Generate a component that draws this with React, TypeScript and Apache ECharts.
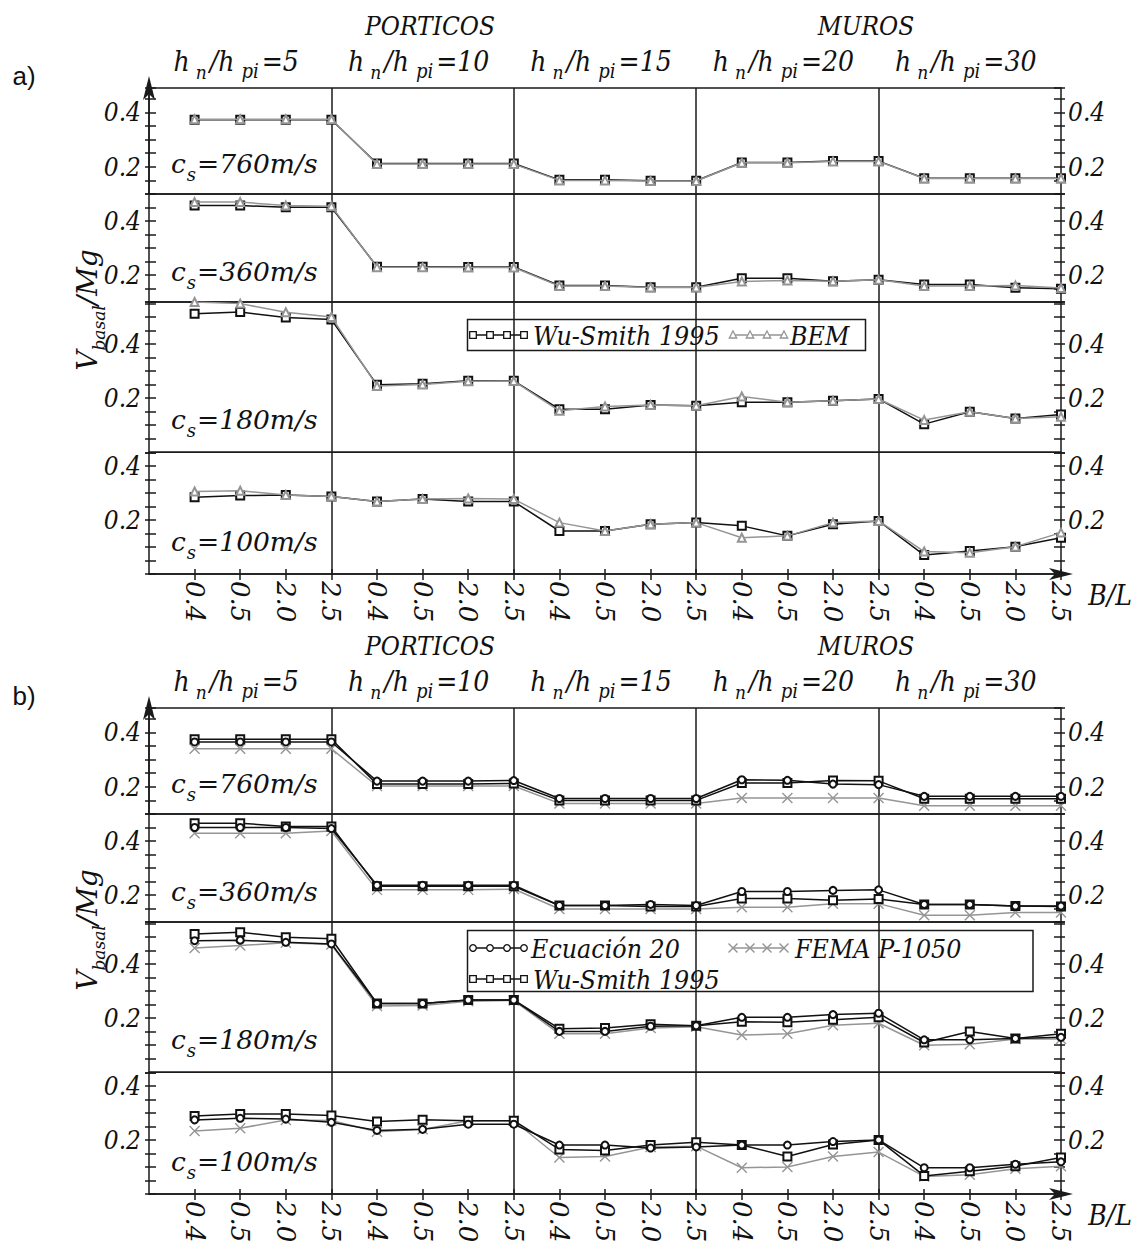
import { useEffect, useRef } from 'react';
import * as echarts from 'echarts';

// ---------- categories / labels ----------
const BL_VALUES = ['0.4', '0.5', '2.0', '2.5'];
const CATEGORIES = ['', ...BL_VALUES, ...BL_VALUES, ...BL_VALUES, ...BL_VALUES, ...BL_VALUES];
const HN_RATIOS = ['5', '10', '15', '20', '30'];
const SOIL_VS = ['760', '360', '180', '100'];
const Y_RANGES = [[0.1, 0.49], [0.1, 0.5], [0, 0.555], [0, 0.45]];
const Y_TICK_LABELS = ['0.2', '0.4'];

// ---------- panel a) ----------
const A_WU_760 = [0.373, 0.373, 0.373, 0.373, 0.212, 0.212, 0.212, 0.212, 0.152, 0.152, 0.149, 0.149, 0.216, 0.216, 0.221, 0.221, 0.158, 0.158, 0.158, 0.158];
const A_BEM_760 = [0.375, 0.375, 0.375, 0.375, 0.21, 0.21, 0.21, 0.21, 0.15, 0.15, 0.148, 0.148, 0.215, 0.215, 0.22, 0.22, 0.157, 0.157, 0.157, 0.157];
const A_WU_360 = [0.457, 0.457, 0.451, 0.451, 0.231, 0.231, 0.23, 0.23, 0.161, 0.161, 0.155, 0.155, 0.188, 0.188, 0.177, 0.182, 0.165, 0.165, 0.153, 0.149];
const A_BEM_360 = [0.47, 0.47, 0.457, 0.455, 0.229, 0.229, 0.228, 0.228, 0.159, 0.159, 0.154, 0.154, 0.176, 0.18, 0.177, 0.182, 0.159, 0.159, 0.161, 0.152];
const A_WU_180 = [0.512, 0.518, 0.498, 0.49, 0.249, 0.253, 0.264, 0.264, 0.159, 0.159, 0.175, 0.172, 0.185, 0.185, 0.19, 0.197, 0.104, 0.15, 0.125, 0.14];
const A_BEM_180 = [0.555, 0.549, 0.517, 0.5, 0.245, 0.25, 0.262, 0.263, 0.153, 0.169, 0.175, 0.172, 0.206, 0.185, 0.19, 0.197, 0.119, 0.15, 0.125, 0.131];
const A_WU_100 = [0.284, 0.29, 0.292, 0.287, 0.268, 0.277, 0.268, 0.268, 0.159, 0.159, 0.184, 0.19, 0.178, 0.141, 0.184, 0.196, 0.07, 0.085, 0.101, 0.134];
const A_BEM_100 = [0.305, 0.308, 0.292, 0.287, 0.268, 0.277, 0.279, 0.277, 0.19, 0.159, 0.184, 0.19, 0.134, 0.141, 0.19, 0.196, 0.083, 0.079, 0.101, 0.153];

// ---------- panel b) ----------
const B_ECU_760 = [0.365, 0.365, 0.365, 0.365, 0.221, 0.221, 0.221, 0.223, 0.157, 0.157, 0.157, 0.157, 0.226, 0.224, 0.21, 0.208, 0.165, 0.165, 0.165, 0.165];
const B_WU_760 = [0.375, 0.375, 0.375, 0.375, 0.21, 0.21, 0.21, 0.212, 0.15, 0.15, 0.15, 0.15, 0.214, 0.214, 0.223, 0.222, 0.156, 0.156, 0.156, 0.156];
const B_FEMA_760 = [0.34, 0.34, 0.34, 0.34, 0.203, 0.203, 0.203, 0.203, 0.139, 0.139, 0.139, 0.139, 0.159, 0.159, 0.159, 0.159, 0.13, 0.13, 0.13, 0.13];
const B_ECU_360 = [0.45, 0.45, 0.45, 0.446, 0.236, 0.236, 0.236, 0.236, 0.161, 0.161, 0.165, 0.161, 0.213, 0.213, 0.217, 0.219, 0.165, 0.165, 0.159, 0.159];
const B_WU_360 = [0.466, 0.466, 0.454, 0.454, 0.232, 0.232, 0.232, 0.232, 0.161, 0.161, 0.157, 0.157, 0.187, 0.187, 0.181, 0.185, 0.165, 0.165, 0.159, 0.157];
const B_FEMA_360 = [0.429, 0.429, 0.429, 0.437, 0.219, 0.219, 0.219, 0.222, 0.148, 0.148, 0.148, 0.148, 0.155, 0.155, 0.168, 0.168, 0.125, 0.125, 0.135, 0.135];
const B_ECU_180 = [0.486, 0.488, 0.48, 0.474, 0.254, 0.254, 0.267, 0.267, 0.151, 0.151, 0.17, 0.172, 0.203, 0.203, 0.213, 0.218, 0.12, 0.12, 0.125, 0.129];
const B_WU_180 = [0.511, 0.517, 0.499, 0.493, 0.254, 0.254, 0.267, 0.267, 0.161, 0.164, 0.177, 0.172, 0.187, 0.185, 0.194, 0.203, 0.11, 0.151, 0.125, 0.142];
const B_FEMA_180 = [0.459, 0.468, 0.478, 0.472, 0.245, 0.247, 0.262, 0.265, 0.142, 0.142, 0.164, 0.168, 0.138, 0.142, 0.174, 0.181, 0.1, 0.104, 0.123, 0.123];
const B_ECU_100 = [0.274, 0.28, 0.277, 0.265, 0.235, 0.239, 0.258, 0.258, 0.181, 0.181, 0.17, 0.174, 0.181, 0.181, 0.194, 0.2, 0.097, 0.097, 0.11, 0.119];
const B_WU_100 = [0.288, 0.296, 0.296, 0.29, 0.268, 0.275, 0.271, 0.271, 0.165, 0.161, 0.181, 0.191, 0.181, 0.139, 0.183, 0.2, 0.067, 0.084, 0.103, 0.135];
const B_FEMA_100 = [0.233, 0.243, 0.274, 0.272, 0.23, 0.239, 0.271, 0.271, 0.135, 0.139, 0.174, 0.177, 0.097, 0.1, 0.139, 0.155, 0.065, 0.071, 0.093, 0.103];

type Kind = 'wu' | 'bem' | 'ecu' | 'fema';
const PANELS: { label: string; series: { name: string; kind: Kind; rows: number[][] }[] }[] = [
  {
    label: 'a)',
    series: [
      { name: 'Wu-Smith 1995', kind: 'wu', rows: [A_WU_760, A_WU_360, A_WU_180, A_WU_100] },
      { name: 'BEM', kind: 'bem', rows: [A_BEM_760, A_BEM_360, A_BEM_180, A_BEM_100] },
    ],
  },
  {
    label: 'b)',
    series: [
      { name: 'FEMA P-1050', kind: 'fema', rows: [B_FEMA_760, B_FEMA_360, B_FEMA_180, B_FEMA_100] },
      { name: 'Wu-Smith 1995', kind: 'wu', rows: [B_WU_760, B_WU_360, B_WU_180, B_WU_100] },
      { name: 'Ecuación 20', kind: 'ecu', rows: [B_ECU_760, B_ECU_360, B_ECU_180, B_ECU_100] },
    ],
  },
];

// ---------- styling / layout ----------
const SERIF = "'DejaVu Serif Condensed', 'DejaVu Serif', serif";
const SERIF_W = "'DejaVu Serif', serif";
const SANS = "'Liberation Sans', Arial, sans-serif";
const INK = '#111';
const GRAY = '#959595';
const LINE = '#1a1a1a';
const LW = 1.5;
const X_SYMBOL = 'path://M0,0L10,10M10,0L0,10';

const KIND_STYLE: Record<Kind, { symbol: string; size: number; color: string }> = {
  wu: { symbol: 'emptyRect', size: 8, color: INK },
  bem: { symbol: 'emptyTriangle', size: 8, color: GRAY },
  ecu: { symbol: 'emptyCircle', size: 7, color: INK },
  fema: { symbol: X_SYMBOL, size: 10, color: GRAY },
};

const PLOT_LEFT = 149;
const PLOT_WIDTH = 912;
const SUB_TOPS = [88, 194, 302, 452.3];
const SUB_BOTTOM = 574;
const PANEL_DY = [0, 620];
const STEP = PLOT_WIDTH / 20;
const CS_Y = [163, 271, 419, 541];

const fmtY = (v: number) => {
  for (const t of Y_TICK_LABELS) if (Math.abs(v - parseFloat(t)) < 1e-6) return t;
  return '';
};

function buildOption() {
  const grid: any[] = [];
  const xAxis: any[] = [];
  const yAxis: any[] = [];
  const series: any[] = [];
  const graphic: any[] = [];
  const lineStyle = { color: LINE, width: LW };

  const richCs = {
    m: { fontFamily: SERIF_W, fontStyle: 'italic', fontSize: 26.5, lineHeight: 40, fill: INK },
    s: { fontFamily: SERIF_W, fontStyle: 'italic', fontSize: 18, lineHeight: 28, verticalAlign: 'bottom', fill: INK, padding: [0, 1, 0, 1] },
  };
  const richH = {
    m: { fontFamily: SERIF, fontStyle: 'italic', fontSize: 28, lineHeight: 40, fill: INK },
    n: { fontFamily: SERIF, fontStyle: 'italic', fontSize: 19, lineHeight: 30, verticalAlign: 'bottom', fill: INK, padding: [0, 3, 0, 6] },
    p: { fontFamily: SERIF, fontStyle: 'italic', fontSize: 20, lineHeight: 14, verticalAlign: 'bottom', fill: INK, padding: [0, 3, 0, 7] },
  };
  const richV = {
    m: { fontFamily: SERIF_W, fontStyle: 'italic', fontSize: 28, lineHeight: 40, fill: INK },
    b: { fontFamily: SERIF_W, fontStyle: 'italic', fontSize: 17, lineHeight: 30, verticalAlign: 'bottom', fill: INK },
  };

  PANELS.forEach((panel, p) => {
    const dy = PANEL_DY[p];
    for (let k = 0; k < 4; k++) {
      const gi = grid.length;
      const top = SUB_TOPS[k] + dy;
      const bottom = (k < 3 ? SUB_TOPS[k + 1] : SUB_BOTTOM) + dy;
      grid.push({ left: PLOT_LEFT, top, width: PLOT_WIDTH, height: bottom - top, show: true, borderColor: LINE, borderWidth: LW, backgroundColor: 'transparent' });
      const isBottom = k === 3;
      const xi = xAxis.length;
      xAxis.push({
        type: 'category', gridIndex: gi, data: CATEGORIES, boundaryGap: false, position: 'bottom',
        axisLine: { show: isBottom, onZero: false, lineStyle, symbol: ['none', 'arrow'], symbolSize: [9, 24], symbolOffset: [0, 12] },
        axisTick: { show: isBottom, interval: (i: number) => i > 0, length: 6, lineStyle },
        axisLabel: { show: isBottom, interval: (i: number) => i > 0, rotate: -90, margin: 7, fontFamily: SERIF_W, fontStyle: 'italic', fontSize: 26, color: INK },
        splitLine: { show: true, interval: (i: number) => i > 0 && i < 20 && i % 4 === 0, lineStyle },
      });
      if (isBottom) {
        xAxis.push({
          type: 'category', gridIndex: gi, data: CATEGORIES, boundaryGap: false, position: 'bottom',
          axisLine: { show: false, onZero: false },
          axisTick: { show: true, inside: true, interval: (i: number) => i > 0, length: 5, lineStyle },
          axisLabel: { show: false }, splitLine: { show: false },
        });
      }
      const [mn, mx] = Y_RANGES[k];
      const yBase = { type: 'value', gridIndex: gi, min: mn, max: mx, interval: 0.05, splitLine: { show: false } };
      const labelStyle = { formatter: fmtY, fontFamily: SERIF, fontStyle: 'italic', fontSize: 26, color: INK };
      const yi = yAxis.length;
      yAxis.push({
        ...yBase, position: 'left',
        axisLine: { show: k === 0, onZero: false, lineStyle, symbol: ['none', 'arrow'], symbolSize: [9, 24], symbolOffset: [0, 12] },
        axisTick: { show: true, length: 4, lineStyle },
        axisLabel: { ...labelStyle, margin: 8 },
      });
      yAxis.push({ ...yBase, position: 'left', axisLine: { show: false, onZero: false }, axisTick: { show: true, inside: true, length: 7, lineStyle }, axisLabel: { show: false } });
      yAxis.push({ ...yBase, position: 'right', axisLine: { show: false, onZero: false }, axisTick: { show: true, length: 4, lineStyle }, axisLabel: { ...labelStyle, margin: 7 } });
      yAxis.push({ ...yBase, position: 'right', axisLine: { show: false, onZero: false }, axisTick: { show: true, inside: true, length: 7, lineStyle }, axisLabel: { show: false } });

      panel.series.forEach((s, si) => {
        const st = KIND_STYLE[s.kind];
        series.push({
          type: 'line', name: s.name, xAxisIndex: xi, yAxisIndex: yi,
          data: s.rows[k].map((v, i) => [i + 1, v]),
          symbol: st.symbol, symbolSize: st.size, showAllSymbol: true, silent: true, z: 3 + si,
          lineStyle: { color: st.color, width: 1.5 },
          itemStyle: { color: st.color, borderColor: st.color, borderWidth: 1.4 },
        });
      });

      graphic.push({
        type: 'text', x: 171, y: CS_Y[k] + dy, z: 50,
        style: { text: `{m|c}{s|s}{m|=${SOIL_VS[k]}m/s}`, rich: richCs, align: 'left', verticalAlign: 'middle' },
      });
    }

    // panel label
    graphic.push({ type: 'text', x: 24, y: 76 + dy, style: { text: panel.label, font: `26px ${SANS}`, fill: INK, align: 'center', verticalAlign: 'middle' } });
    // family headings
    graphic.push({ type: 'text', x: 430, y: 26 + dy, style: { text: 'PORTICOS', font: `italic 26px ${SERIF}`, fill: INK, align: 'center', verticalAlign: 'middle' } });
    graphic.push({ type: 'text', x: 866, y: 26 + dy, style: { text: 'MUROS', font: `italic 26px ${SERIF}`, fill: INK, align: 'center', verticalAlign: 'middle' } });
    HN_RATIOS.forEach((r, g) => {
      graphic.push({
        type: 'text', x: PLOT_LEFT + (4 * g + 2) * STEP - 4, y: 61 + dy,
        style: { text: `{m|h}{n|n}{m|/h}{p|pi}{m|=${r}}`, rich: richH, align: 'center', verticalAlign: 'middle' },
      });
    });
    // y title
    graphic.push({
      type: 'text', x: 87, y: 310 + dy, rotation: Math.PI / 2,
      style: { text: '{m|V}{b|basal}{m|/Mg}', rich: richV, align: 'center', verticalAlign: 'middle' },
    });
    // x name
    graphic.push({ type: 'text', x: 1110, y: 595 + dy, style: { text: 'B/L', font: `italic 28px ${SERIF}`, fill: INK, align: 'center', verticalAlign: 'middle' } });
  });

  // ---------- legends ----------
  const marker = (kind: Kind, cx: number, cy: number): any => {
    const c = KIND_STYLE[kind].color;
    const st = { fill: '#fff', stroke: c, lineWidth: 1.3 };
    if (kind === 'wu') return { type: 'rect', shape: { x: cx - 3.3, y: cy - 3.3, width: 6.6, height: 6.6 }, style: st };
    if (kind === 'ecu') return { type: 'circle', shape: { cx, cy, r: 3.3 }, style: st };
    if (kind === 'bem') return { type: 'polygon', shape: { points: [[cx, cy - 4], [cx + 3.7, cy + 3], [cx - 3.7, cy + 3]] }, style: st };
    return {
      type: 'group', children: [
        { type: 'line', shape: { x1: cx - 4.5, y1: cy - 4.5, x2: cx + 4.5, y2: cy + 4.5 }, style: { stroke: c, lineWidth: 1.4 } },
        { type: 'line', shape: { x1: cx + 4.5, y1: cy - 4.5, x2: cx - 4.5, y2: cy + 4.5 }, style: { stroke: c, lineWidth: 1.4 } },
      ],
    };
  };
  const entry = (kind: Kind, name: string, x0: number, tx: number, y: number): any[] => {
    const c = KIND_STYLE[kind].color;
    const els: any[] = [{ type: 'line', shape: { x1: x0, y1: y, x2: x0 + 51, y2: y }, style: { stroke: c, lineWidth: 1.4 } }];
    for (let i = 0; i < 4; i++) els.push(marker(kind, x0 + i * 17, y));
    els.push({ type: 'text', x: tx, y, style: { text: name, font: `italic 26.5px ${SERIF}`, fill: INK, align: 'left', verticalAlign: 'middle' } });
    return els;
  };
  graphic.push({
    type: 'group', z: 100, children: [
      { type: 'rect', shape: { x: 467.5, y: 319.5, width: 398, height: 31 }, style: { fill: '#fff', stroke: LINE, lineWidth: LW } },
      ...entry('wu', 'Wu-Smith 1995', 473, 533, 335),
      ...entry('bem', 'BEM', 733, 790, 335),
    ],
  });
  graphic.push({
    type: 'group', z: 100, children: [
      { type: 'rect', shape: { x: 467.5, y: 930.5, width: 565.5, height: 61 }, style: { fill: '#fff', stroke: LINE, lineWidth: LW } },
      ...entry('ecu', 'Ecuación 20', 473, 531, 948),
      ...entry('fema', 'FEMA P-1050', 733, 795, 948),
      ...entry('wu', 'Wu-Smith 1995', 473, 533, 979),
    ],
  });

  return { animation: false, backgroundColor: '#fff', grid, xAxis, yAxis, series, graphic };
}

export default function App() {
  const ref = useRef<HTMLDivElement>(null);
  useEffect(() => {
    document.body.style.margin = '0';
    if (!ref.current) return;
    const chart = echarts.init(ref.current, undefined, { renderer: 'svg' });
    chart.setOption(buildOption() as any);
    return () => chart.dispose();
  }, []);
  return <div ref={ref} style={{ width: 1135, height: 1247 }} />;
}
